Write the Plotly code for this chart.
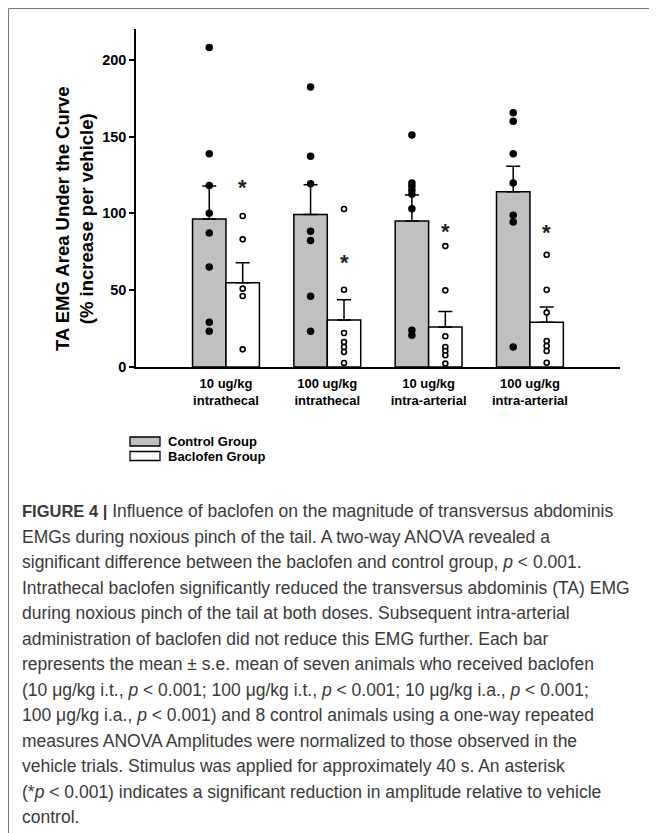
import plotly.graph_objects as go

# ---------------- data ----------------
categories = ["10 ug/kg<br>intrathecal", "100 ug/kg<br>intrathecal",
              "10 ug/kg<br>intra-arterial", "100 ug/kg<br>intra-arterial"]
series_names = ["Control Group", "Baclofen Group"]

control_mean = [96.3, 99.3, 95.0, 114.1]
control_sem = [21.5, 19.4, 16.9, 16.5]
baclofen_mean = [54.9, 30.6, 26.0, 29.1]
baclofen_sem = [13.0, 13.2, 10.2, 9.9]

control_points = [
    [208.0, 138.8, 118.2, 100.0, 87.2, 65.1, 29.1, 23.2],
    [182.2, 137.1, 119.3, 88.3, 82.4, 46.0, 23.2],
    [151.0, 119.7, 117.6, 115.0, 112.4, 103.0, 23.9, 20.6],
    [165.5, 160.0, 138.8, 119.7, 98.7, 94.3, 13.0],
]
baclofen_points = [
    [98.3, 83.1, 51.0, 46.2, 11.5],
    [102.8, 50.3, 22.1, 16.3, 13.0, 9.8, 2.6],
    [78.7, 49.9, 20.0, 13.0, 10.4, 7.6, 2.2],
    [73.1, 50.3, 35.4, 16.9, 13.7, 10.4, 2.8],
]
star_y = [119.7, 70.9, 91.1, 90.0]

y_ticks = [0, 50, 100, 150, 200]
y_title = "TA EMG Area Under the Curve<br>(% increase per vehicle)"

caption_lines = [
    "<b><span style='font-size:16.5px'>FIGURE 4 |</span></b> Influence of baclofen on the magnitude of transversus abdominis",
    "EMGs during noxious pinch of the tail. A two-way ANOVA revealed a",
    "significant difference between the baclofen and control group, <i>p</i> &lt; 0.001.",
    "Intrathecal baclofen significantly reduced the transversus abdominis (TA) EMG",
    "during noxious pinch of the tail at both doses. Subsequent intra-arterial",
    "administration of baclofen did not reduce this EMG further. Each bar",
    "represents the mean \u00b1 s.e. mean of seven animals who received baclofen",
    "(10 \u03bcg/kg i.t., <i>p</i> &lt; 0.001; 100 \u03bcg/kg i.t., <i>p</i> &lt; 0.001; 10 \u03bcg/kg i.a., <i>p</i> &lt; 0.001;",
    "100 \u03bcg/kg i.a., <i>p</i> &lt; 0.001) and 8 control animals using a one-way repeated",
    "measures ANOVA Amplitudes were normalized to those observed in the",
    "vehicle trials. Stimulus was applied for approximately 40 s. An asterisk",
    "(*<i>p</i> &lt; 0.001) indicates a significant reduction in amplitude relative to vehicle",
    "control.",
]

# ---------------- layout geometry ----------------
OFF = 8                      # page body margin
W, H = 657 - OFF, 833 - OFF
L, R, T, B = 128, 37, 21, 466
PW, PH = W - L - R, H - T - B
BAR_W = 0.33
FONT = "Liberation Sans, Arial, sans-serif"


def px(x):
    return (x - OFF - L) / PW


def py(y):
    return (H - B - (y - OFF)) / PH


idx = list(range(len(categories)))

fig = go.Figure()

fig.add_trace(go.Bar(
    x=idx, y=control_mean, width=BAR_W, offset=-BAR_W, name=series_names[0],
    marker=dict(color="#c0c0c0", line=dict(color="black", width=1.5)),
    error_y=dict(type="data", array=control_sem, arrayminus=[0] * 4, symmetric=False,
                 color="black", thickness=1.5, width=7),
    showlegend=False,
))
fig.add_trace(go.Bar(
    x=idx, y=baclofen_mean, width=BAR_W, offset=0, name=series_names[1],
    marker=dict(color="white", line=dict(color="black", width=1.5)),
    error_y=dict(type="data", array=baclofen_sem, arrayminus=[0] * 4, symmetric=False,
                 color="black", thickness=1.5, width=7),
    showlegend=False,
))

cx, cy, bx, by = [], [], [], []
for i in idx:
    for v in control_points[i]:
        cx.append(i - BAR_W / 2)
        cy.append(v)
    for v in baclofen_points[i]:
        bx.append(i + BAR_W / 2)
        by.append(v)

fig.add_trace(go.Scatter(x=cx, y=cy, mode="markers", showlegend=False,
                         marker=dict(color="black", size=7.5, symbol="circle")))
fig.add_trace(go.Scatter(x=bx, y=by, mode="markers", showlegend=False,
                         marker=dict(color="white", size=5, symbol="circle",
                                     line=dict(color="black", width=1.6))))

annotations = []
for i in idx:
    annotations.append(dict(x=i + BAR_W / 2, y=star_y[i], xref="x", yref="y", text="<b>*</b>",
                            showarrow=False, yshift=-4,
                            font=dict(family=FONT, size=22, color="#222")))

annotations.append(dict(x=px(74), y=py(219), xref="paper", yref="paper", text="<b>" + y_title + "</b>",
                        textangle=-90, showarrow=False, xanchor="center", yanchor="middle",
                        font=dict(family=FONT, size=18.5, color="black")))

# legend (drawn manually to match boxy swatches)
shapes = []
legend_fill = ["#c0c0c0", "white"]
for k, name in enumerate(series_names):
    yc = 441.5 + k * 14.5
    shapes.append(dict(type="rect", xref="paper", yref="paper",
                       x0=px(130), x1=px(160), y0=py(yc - 4.5), y1=py(yc + 4.5),
                       fillcolor=legend_fill[k], line=dict(color="black", width=1.3)))
    annotations.append(dict(x=px(166), y=py(yc), xref="paper", yref="paper",
                            text="<b>" + name + "</b>", showarrow=False,
                            xanchor="left", yanchor="middle",
                            font=dict(family=FONT, size=13, color="black")))

for k, line in enumerate(caption_lines):
    annotations.append(dict(x=px(20), y=py(511 + k * 25.5), xref="paper", yref="paper",
                            text=line, showarrow=False, xanchor="left", yanchor="middle",
                            font=dict(family=FONT, size=17.5, color="#3a3a3a")))

shapes.append(dict(type="rect", xref="paper", yref="paper",
                   x0=px(8.5), x1=px(651), y0=py(8.5), y1=py(845),
                   line=dict(color="#777777", width=1), fillcolor="rgba(0,0,0,0)", layer="below"))

fig.update_layout(
    width=W, height=H,
    margin=dict(l=L, r=R, t=T, b=B),
    paper_bgcolor="white", plot_bgcolor="white",
    barmode="overlay",
    showlegend=False,
    annotations=annotations,
    shapes=shapes,
    xaxis=dict(range=[-0.888, 3.889], tickvals=idx,
               ticktext=["<b>" + c + "</b>" for c in categories],
               showline=True, linecolor="black", linewidth=1.5, ticks="",
               ticklabelstandoff=4,
               showgrid=False, zeroline=False, fixedrange=True,
               tickfont=dict(family=FONT, size=13, color="black")),
    yaxis=dict(range=[0, 220], tickvals=y_ticks, ticktext=["<b>%d</b>" % t for t in y_ticks],
               showline=True, linecolor="black", linewidth=1.5, ticks="outside",
               ticklen=5, tickwidth=1.5, tickcolor="black",
               showgrid=False, zeroline=False,
               tickfont=dict(family=FONT, size=14.5, color="black")),
)

fig.write_html("out.html")
